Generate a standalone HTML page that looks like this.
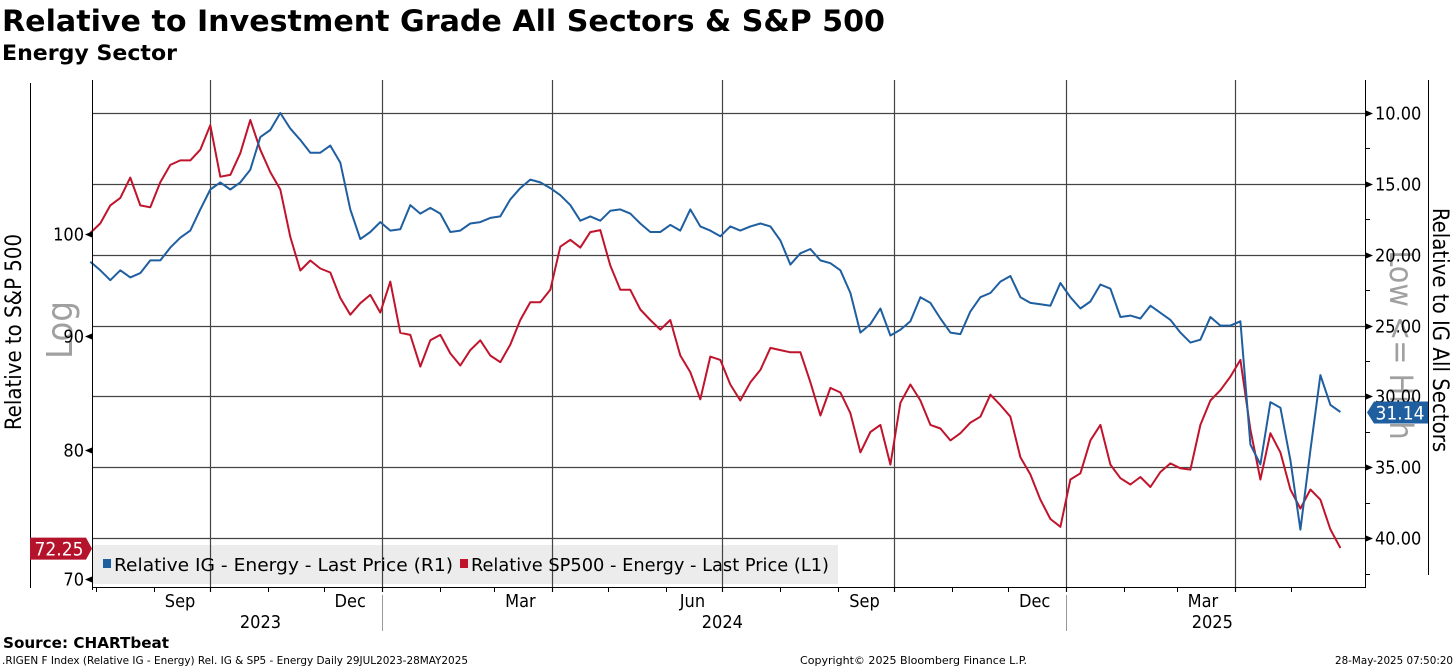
<!DOCTYPE html>
<html><head><meta charset="utf-8">
<style>
html,body{margin:0;padding:0;background:#fff;}
svg{display:block;font-family:"DejaVu Sans Condensed","Liberation Sans",sans-serif;}
</style></head>
<body>
<svg id="chart" width="1456" height="668" viewBox="0 0 1456 668" xmlns="http://www.w3.org/2000/svg">
  <text x="2" y="31" font-family="'DejaVu Sans','Liberation Sans',sans-serif" font-weight="bold" font-size="29" textLength="883" lengthAdjust="spacingAndGlyphs" fill="#000">Relative to Investment Grade All Sectors &amp; S&amp;P 500</text>
  <text x="2" y="60" font-family="'DejaVu Sans','Liberation Sans',sans-serif" font-weight="bold" font-size="21" textLength="175" lengthAdjust="spacingAndGlyphs" fill="#000">Energy Sector</text>

  <rect x="93" y="545" width="745" height="39" fill="#ececec"/>
  <g id="grid"></g>
  <g id="series"></g>

  <line x1="30.5" y1="83" x2="30.5" y2="588" stroke="#000" stroke-width="1"/>
  <line x1="1428.5" y1="80" x2="1428.5" y2="575" stroke="#000" stroke-width="1"/>
  <line x1="92.5" y1="80" x2="92.5" y2="590" stroke="#000"/>
  <line x1="1365.5" y1="80" x2="1365.5" y2="587" stroke="#000"/>
  <line x1="92" y1="587.5" x2="1366" y2="587.5" stroke="#000"/>

  <text transform="translate(21,332) rotate(-90)" text-anchor="middle" font-size="22" fill="#000">Relative to S&amp;P 500</text>
  <text transform="translate(72,330) rotate(-90)" text-anchor="middle" font-size="36" fill="#a0a0a0">Log</text>
  <text transform="translate(1433,330) rotate(90)" text-anchor="middle" font-size="22" fill="#000">Relative to IG All Sectors</text>
  <text transform="translate(1390,345) rotate(90)" text-anchor="middle" font-size="32" fill="#a0a0a0">Low &lt;= High</text>

  <g id="legend">
    <rect x="103" y="559" width="8" height="9" fill="#1f5fa0"/>
    <text x="114" y="571" font-size="18" textLength="339" lengthAdjust="spacingAndGlyphs" fill="#000">Relative IG - Energy - Last Price (R1)</text>
    <rect x="460" y="559" width="8" height="9" fill="#c0142c"/>
    <text x="471" y="571" font-size="18" textLength="358" lengthAdjust="spacingAndGlyphs" fill="#000">Relative SP500 - Energy - Last Price (L1)</text>
  </g>

  <text x="3" y="648" font-family="'DejaVu Sans','Liberation Sans',sans-serif" font-weight="bold" font-size="15" textLength="166" lengthAdjust="spacingAndGlyphs">Source: CHARTbeat</text>
  <text x="2" y="664" font-size="11" textLength="466" lengthAdjust="spacingAndGlyphs">.RIGEN F Index (Relative IG - Energy) Rel. IG &amp; SP5 - Energy  Daily 29JUL2023-28MAY2025</text>
  <text x="800" y="664" font-size="11" textLength="227" lengthAdjust="spacingAndGlyphs">Copyright© 2025 Bloomberg Finance L.P.</text>
  <text x="1335" y="664" font-size="11" textLength="118" lengthAdjust="spacingAndGlyphs">28-May-2025 07:50:20</text>
</svg>
<script>
// ---- data ----
const startDate = "2023-07-29";
const endDate = "2025-05-28";
const stepDays = 5.348;
const igValues = [20.5,21.1,21.8,21.1,21.6,21.3,20.4,20.4,19.5,18.8,18.3,16.8,15.4,14.9,15.4,14.9,14.0,11.7,11.2,10.0,
11.1,11.9,12.8,12.8,12.3,13.5,16.8,18.9,18.4,17.7,18.3,18.2,16.5,17.1,16.7,17.1,18.4,18.3,17.8,17.7,
17.4,17.3,16.1,15.3,14.7,14.9,15.3,15.8,16.5,17.6,17.3,17.6,16.9,16.8,17.1,17.8,18.4,18.4,17.9,18.3,
16.8,18.0,18.3,18.7,18.0,18.3,18.0,17.8,18.0,19.0,20.7,19.9,19.6,20.4,20.6,21.1,22.7,25.5,24.9,23.8,
25.7,25.3,24.7,23.0,23.4,24.5,25.5,25.6,24.0,23.0,22.7,21.9,21.5,23.0,23.4,23.5,23.6,22.0,23.0,23.8,
23.3,22.1,22.4,24.4,24.3,24.5,23.6,24.1,24.6,25.5,26.2,26.0,24.4,25.0,25.0,24.7,33.4,34.8,30.4,30.8,
34.5,39.4,33.8,28.5,30.6,31.1];
const spValues = [100.1,101.1,103.0,103.8,106.0,103.0,102.8,105.5,107.4,107.9,107.9,109.1,111.9,106.1,106.3,108.7,112.5,109.1,106.6,104.7,
99.7,96.3,97.3,96.5,96.1,93.6,92.0,93.1,93.9,92.2,95.2,90.3,90.1,87.2,89.6,90.1,88.4,87.3,88.7,89.6,
88.2,87.6,89.2,91.5,93.2,93.2,94.4,98.7,99.4,98.6,100.2,100.4,96.8,94.4,94.4,92.5,91.5,90.6,91.5,88.2,
86.7,84.3,88.1,87.8,85.6,84.2,85.8,86.9,88.9,88.7,88.5,88.5,85.8,82.9,85.3,84.9,83.1,79.8,81.5,82.1,
78.8,84.0,85.6,84.2,82.1,81.8,80.8,81.4,82.3,82.8,84.7,83.8,82.8,79.4,78.0,76.0,74.5,73.9,77.6,78.1,
80.8,82.1,78.8,77.7,77.2,77.8,77.0,78.2,78.9,78.5,78.4,82.1,84.2,85.1,86.3,87.8,81.7,77.6,81.4,79.8,
76.8,75.3,76.8,76.0,73.7,72.3];
const rightTicks = [10,15,20,25,30,35,40];
const rightMinor = [12.5,17.5,22.5,27.5,32.5,37.5,42.5];
const leftTicks = [100,90,80,70];
const monthLabels = [["Sep","2023-09-15"],["Dec","2023-12-15"],["Mar","2024-03-15"],["Jun","2024-06-15"],["Sep","2024-09-15"],["Dec","2024-12-15"],["Mar","2025-03-15"]];
const quarterLines = ["2023-10-01","2024-01-01","2024-04-01","2024-07-01","2024-10-01","2025-01-01","2025-04-01"];
const yearLabels = [["2023","2023-10-28"],["2024","2024-07-01"],["2025","2025-03-20"]];
const yearSeps = ["2024-01-01","2025-01-01"];
const lastIG = 31.14, lastSP = 72.25;

// ---- axes ----
const DAY = 86400000;
const t0 = Date.parse(startDate);
function xDate(s){ return 90.3 + (Date.parse(s)-t0)/DAY*1.870; }
function xIdx(i){ return 90.3 + i*stepDays*1.870; }
function yR(v){ return 113 + (v-10)*14.17; }
function yL(v){ return 234 + 968*Math.log(100/v); }

const NS="http://www.w3.org/2000/svg";
const grid=document.getElementById('grid'), ser=document.getElementById('series'), svg=document.getElementById('chart');
function mk(tag, attrs, parent){ const e=document.createElementNS(NS,tag); for(const k in attrs) e.setAttribute(k,attrs[k]); (parent||svg).appendChild(e); return e; }

rightTicks.forEach(v=>{
  const y=Math.round(yR(v))+0.5;
  const g=mk('line',{x1:93,y1:y,x2:1365,y2:y,stroke:'#444','stroke-width':1.2},grid);
  
  
  const tk=mk('path',{d:`M1366 ${y-3} L1373 ${y} L1366 ${y+3} Z`,fill:'#000'});
  
  
  const t=mk('text',{x:1375,y:y+6,'font-size':18,fill:'#000'});
  t.textContent=v.toFixed(2);
  
  
});
rightMinor.forEach(v=>{
  const y=Math.round(yR(v))+0.5;
  const m=mk('line',{x1:1365,y1:y,x2:1370,y2:y,stroke:'#000'});
  
  
});
leftTicks.forEach(v=>{
  const y=Math.round(yL(v))+0.5;
  const tk=mk('path',{d:`M92 ${y-3} L85 ${y} L92 ${y+3} Z`,fill:'#000'});
  
  
  const t=mk('text',{x:84,y:y+6,'font-size':18,'text-anchor':'end',fill:'#000'});
  t.textContent=v;
  
  
});
quarterLines.forEach(d=>{
  const x=Math.round(xDate(d))+0.5;
  const l=mk('line',{x1:x,y1:80,x2:x,y2:592,stroke:'#444','stroke-width':1.2},grid);
  
  
});
for(let y=2023,m=8;!(y===2025&&m>5);){
  const ds=`${y}-${String(m).padStart(2,'0')}-01`;
  const x=Math.round(xDate(ds))+0.5;
  if(x>93&&x<1365){
    const l=mk('line',{x1:x,y1:587,x2:x,y2:592,stroke:'#000'});
    
    
  }
  m++; if(m>12){m=1;y++;}
}
monthLabels.forEach(([lab,d])=>{
  const t=mk('text',{x:xDate(d),y:607,'font-size':18,'text-anchor':'middle',fill:'#000'});
  t.textContent=lab;
  
  
});
yearLabels.forEach(([lab,d])=>{
  const t=mk('text',{x:xDate(d),y:628,'font-size':18,'text-anchor':'middle',fill:'#000'});
  t.textContent=lab;
  
  
});
yearSeps.forEach(d=>{
  const x=Math.round(xDate(d))+0.5;
  const l=mk('line',{x1:x,y1:595,x2:x,y2:631,stroke:'#999'});
  
  
});

function pathOf(vals, yf){ return vals.map((v,i)=>(i?'L':'M')+xIdx(i).toFixed(1)+' '+yf(v).toFixed(1)).join(' '); }
const pSP=mk('path',{d:pathOf(spValues,yL),fill:'none',stroke:'#c0142c','stroke-width':2,'stroke-linejoin':'round'},ser);


const pIG=mk('path',{d:pathOf(igValues,yR),fill:'none',stroke:'#1f5fa0','stroke-width':2,'stroke-linejoin':'round'},ser);



const ySP=yL(lastSP);
const tagL=mk('path',{d:`M30 ${ySP-11} L86 ${ySP-11} L92 ${ySP} L86 ${ySP+11} L30 ${ySP+11} Z`,fill:'#b5122b'});


const tl=mk('text',{x:59,y:ySP+7,'font-size':19,'text-anchor':'middle',fill:'#fff'});
tl.textContent=lastSP.toFixed(2);


const yIG=yR(lastIG);
const tagR=mk('path',{d:`M1367 ${yIG} L1374 ${yIG-11} L1428 ${yIG-11} L1428 ${yIG+11} L1374 ${yIG+11} Z`,fill:'#1f5fa0'});


const tr=mk('text',{x:1400,y:yIG+7,'font-size':19,'text-anchor':'middle',fill:'#fff'});
tr.textContent=lastIG.toFixed(2);


</script>
</body></html>
